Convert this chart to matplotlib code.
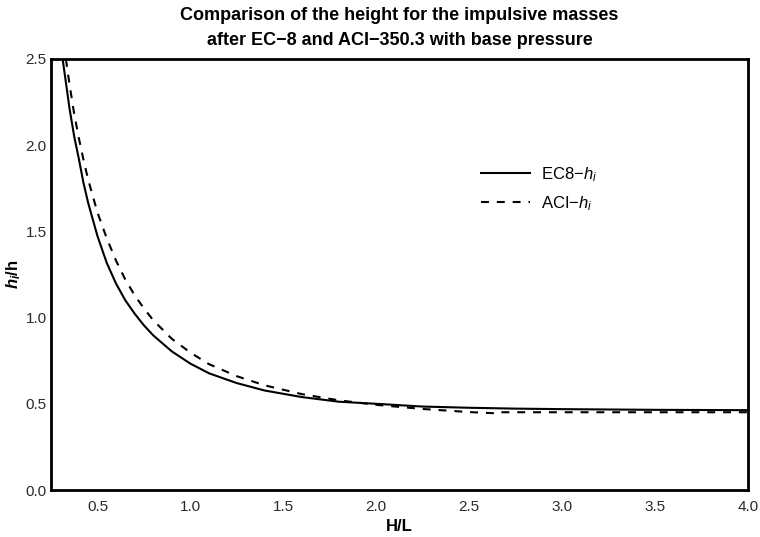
import matplotlib
matplotlib.use("Agg")
import matplotlib.pyplot as plt

plt.rcParams['font.family'] = ['Liberation Sans', 'DejaVu Sans']
plt.rcParams['mathtext.fontset'] = 'custom'
plt.rcParams['mathtext.rm'] = 'Liberation Sans'
plt.rcParams['mathtext.it'] = 'Liberation Sans:italic'
plt.rcParams['mathtext.bf'] = 'Liberation Sans:bold'
plt.rcParams['mathtext.bfit'] = 'Liberation Sans:bold:italic'

# EC-8 impulsive height ratio (solid)
ec8_x = [0.31, 0.35, 0.375, 0.40, 0.425, 0.45, 0.50, 0.55, 0.60, 0.65, 0.70, 0.75, 0.80, 0.90, 1.00,
         1.10, 1.25, 1.40, 1.60, 1.80, 2.00, 2.25, 2.50, 2.75, 3.00, 3.50, 4.00]
ec8_y = [2.52, 2.21, 2.05, 1.92, 1.78, 1.665, 1.473, 1.317, 1.197, 1.10, 1.023, 0.955, 0.897, 0.804, 0.733,
         0.677, 0.62, 0.577, 0.539, 0.512, 0.50, 0.484, 0.477, 0.472, 0.469, 0.465, 0.463]

# ACI-350.3 impulsive height ratio (dashed)
aci_x = [0.33, 0.35, 0.375, 0.40, 0.425, 0.45, 0.50, 0.55, 0.60, 0.65, 0.70, 0.75, 0.80, 0.90, 1.00,
         1.10, 1.25, 1.40, 1.60, 1.80, 2.00, 2.25, 2.50, 2.66, 2.67, 3.00, 3.50, 4.00]
aci_y = [2.50, 2.35, 2.18, 2.04, 1.914, 1.80, 1.61, 1.46, 1.33, 1.22, 1.13, 1.053, 0.985, 0.877, 0.797,
         0.73, 0.66, 0.607, 0.556, 0.52, 0.494, 0.47, 0.452, 0.444, 0.451, 0.451, 0.451, 0.451]

x_ticks = [0.5, 1.0, 1.5, 2.0, 2.5, 3.0, 3.5, 4.0]
y_ticks = [0.0, 0.5, 1.0, 1.5, 2.0, 2.5]

fig = plt.figure(figsize=(7.6, 5.37), dpi=100)
ax = fig.add_axes([51/760, 1-490/537, (748-51)/760, (490-59)/537])

ax.plot(ec8_x, ec8_y, color='black', lw=1.5, label='EC8\u2212$h_i$')
ax.plot(aci_x, aci_y, color='black', lw=1.5, dashes=(3.8, 3.8), label='ACI\u2212$h_i$')

ax.set_xlim(0.25, 4.0)
ax.set_ylim(0.0, 2.5)
ax.set_xticks(x_ticks)
ax.set_yticks(y_ticks)
ax.set_xticklabels([f'{v:.1f}' for v in x_ticks])
ax.set_yticklabels([f'{v:.1f}' for v in y_ticks])
ax.tick_params(axis='x', length=0, pad=7, labelsize=11, colors='#2a2a2a')
ax.tick_params(axis='y', length=0, pad=3, labelsize=11, colors='#2a2a2a')
for s in ax.spines.values():
    s.set_linewidth(2.0)
    s.set_color('black')

ax.set_title('Comparison of the height for the impulsive masses\nafter EC\u22128 and ACI\u2212350.3 with base pressure',
             fontsize=13, fontweight='bold', linespacing=1.6, pad=10)
ax.set_xlabel('H/L', fontsize=12, fontweight='bold', labelpad=4)
ax.set_ylabel('$\\mathbfit{h}_{\\mathbfit{i}}$/h', fontsize=12, fontweight='bold', labelpad=2)

leg = ax.legend(loc='upper left', bbox_to_anchor=(0.607, 0.769), frameon=False,
                fontsize=12, handlelength=2.95, handletextpad=0.65, labelspacing=0.6,
                borderaxespad=0)

fig.savefig('out.png', dpi=100)
